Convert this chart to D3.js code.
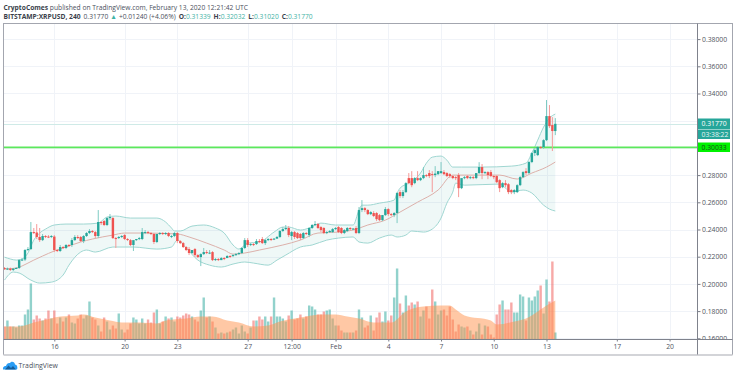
<!DOCTYPE html>
<html>
<head>
<meta charset="utf-8">
<script src="https://cdn.jsdelivr.net/npm/d3@7"></script>
<style>
  html, body { margin: 0; background: #fff; }
  svg { display: block; font-family: "Open Sans", sans-serif; }
  .tick-label { fill: #50535e; font-size: 6.8px; }
  .header { font-size: 6.7px; fill: #4a4f5c; }
  .header .strong { font-weight: 700; fill: #3a3f4b; }
  .header .val { fill: #3fb3a6; }
</style>
</head>
<body>
<svg id="chart" width="736" height="375"></svg>
<script>
const opens = [
  .2117,.2109,.2113,.2102,.2113,.2117,.2175,.2179,.2249,.2256,
  .2381,.2378,.2345,.2322,.2352,.2348,.2345,.2348,.2249,.2242,
  .2271,.2264,.2286,.2286,.2322,.2345,.2345,.2315,.2352,.2374,
  .2389,.2381,.2352,.2455,.2462,.2433,.2484,.2484,.2337,.2337,
  .2345,.2359,.2330,.2322,.2286,.2322,.2330,.2330,.2381,.2381,
  .2374,.2367,.2308,.2367,.2374,.2367,.2374,.2352,.2352,.2374,
  .2315,.2300,.2271,.2256,.2227,.2256,.2212,.2197,.2219,.2234,
  .2227,.2234,.2175,.2183,.2175,.2190,.2190,.2205,.2205,.2212,
  .2219,.2227,.2264,.2322,.2286,.2293,.2293,.2315,.2330,.2300,
  .2322,.2330,.2330,.2333,.2345,.2389,.2403,.2411,.2352,.2381,
  .2374,.2367,.2337,.2374,.2359,.2411,.2433,.2440,.2418,.2411,
  .2374,.2381,.2381,.2403,.2418,.2411,.2374,.2389,.2411,.2403,
  .2411,.2374,.2543,.2557,.2543,.2513,.2521,.2521,.2506,.2469,
  .2506,.2550,.2513,.2506,.2521,.2675,.2646,.2675,.2778,.2778,
  .2741,.2778,.2763,.2778,.2800,.2815,.2807,.2800,.2807,.2815,
  .2822,.2815,.2807,.2793,.2785,.2800,.2704,.2778,.2793,.2778,
  .2785,.2778,.2815,.2859,.2815,.2822,.2822,.2793,.2793,.2763,
  .2711,.2741,.2733,.2690,.2675,.2675,.2726,.2785,.2829,.2815,
  .2896,.2962,.2947,.3006,.3006,.3057,.3234,.3168,.3124
];
const highs = [
  .2124,.2120,.2120,.2113,.2124,.2183,.2190,.2256,.2271,.2455,
  .2411,.2440,.2411,.2367,.2359,.2359,.2359,.2359,.2256,.2286,
  .2278,.2293,.2293,.2337,.2359,.2359,.2352,.2359,.2381,.2403,
  .2396,.2389,.2543,.2462,.2470,.2492,.2514,.2492,.2345,.2352,
  .2359,.2366,.2337,.2330,.2300,.2330,.2345,.2411,.2396,.2389,
  .2381,.2374,.2337,.2381,.2381,.2381,.2381,.2359,.2381,.2381,
  .2322,.2308,.2278,.2271,.2249,.2264,.2219,.2225,.2264,.2249,
  .2249,.2241,.2190,.2190,.2197,.2197,.2212,.2212,.2219,.2227,
  .2234,.2271,.2337,.2337,.2300,.2300,.2330,.2330,.2345,.2330,
  .2337,.2337,.2337,.2352,.2396,.2418,.2433,.2425,.2389,.2389,
  .2381,.2374,.2381,.2381,.2418,.2440,.2462,.2448,.2425,.2418,
  .2389,.2396,.2411,.2418,.2425,.2418,.2403,.2418,.2418,.2411,
  .2425,.2565,.2616,.2565,.2550,.2535,.2535,.2528,.2514,.2506,
  .2565,.2557,.2521,.2528,.2675,.2690,.2690,.2748,.2815,.2829,
  .2785,.2829,.2785,.2859,.2807,.2837,.2829,.2866,.2829,.2896,
  .2837,.2822,.2815,.2800,.2793,.2815,.2733,.2793,.2800,.2793,
  .2793,.2793,.2895,.2881,.2829,.2829,.2837,.2800,.2800,.2770,
  .2748,.2763,.2741,.2697,.2697,.2733,.2793,.2829,.2851,.2903,
  .2969,.2998,.3013,.3013,.3064,.3352,.3315,.3226,.3219
];
const lows = [
  .2102,.2102,.2095,.2095,.2109,.2109,.2168,.2168,.2241,.2249,
  .2366,.2330,.2308,.2315,.2337,.2337,.2337,.2234,.2234,.2234,
  .2256,.2256,.2271,.2271,.2315,.2330,.2308,.2300,.2345,.2366,
  .2374,.2337,.2337,.2433,.2425,.2425,.2470,.2330,.2264,.2330,
  .2337,.2322,.2315,.2278,.2242,.2315,.2322,.2322,.2366,.2366,
  .2359,.2293,.2300,.2359,.2359,.2359,.2344,.2337,.2344,.2300,
  .2293,.2264,.2241,.2212,.2219,.2197,.2190,.2131,.2212,.2219,
  .2219,.2168,.2168,.2168,.2175,.2175,.2190,.2190,.2197,.2205,
  .2212,.2219,.2256,.2271,.2278,.2278,.2286,.2300,.2293,.2286,
  .2315,.2315,.2322,.2330,.2337,.2381,.2396,.2344,.2322,.2330,
  .2330,.2322,.2330,.2359,.2344,.2403,.2425,.2403,.2381,.2366,
  .2366,.2374,.2374,.2396,.2374,.2366,.2366,.2381,.2396,.2396,
  .2366,.2366,.2528,.2528,.2506,.2506,.2491,.2462,.2462,.2462,
  .2499,.2499,.2499,.2491,.2447,.2631,.2631,.2668,.2733,.2711,
  .2733,.2756,.2756,.2770,.2785,.2778,.2675,.2785,.2800,.2807,
  .2800,.2785,.2778,.2770,.2763,.2638,.2697,.2770,.2770,.2770,
  .2770,.2770,.2807,.2770,.2807,.2770,.2785,.2770,.2741,.2675,
  .2704,.2711,.2660,.2660,.2660,.2668,.2719,.2778,.2800,.2807,
  .2888,.2940,.2940,.2994,.2994,.3050,.3146,.2977,.3094
];
const closes = [
  .2109,.2113,.2102,.2113,.2117,.2175,.2179,.2249,.2256,.2381,
  .2378,.2345,.2322,.2352,.2348,.2345,.2352,.2249,.2242,.2271,
  .2264,.2286,.2282,.2322,.2345,.2337,.2315,.2352,.2374,.2389,
  .2381,.2352,.2455,.2447,.2433,.2484,.2492,.2337,.2333,.2345,
  .2352,.2330,.2326,.2286,.2322,.2330,.2337,.2381,.2381,.2374,
  .2367,.2308,.2367,.2374,.2367,.2374,.2352,.2352,.2374,.2315,
  .2300,.2271,.2249,.2227,.2249,.2212,.2197,.2219,.2234,.2227,
  .2230,.2175,.2183,.2175,.2190,.2186,.2205,.2201,.2212,.2219,
  .2227,.2264,.2322,.2286,.2293,.2289,.2315,.2311,.2300,.2322,
  .2330,.2326,.2333,.2345,.2389,.2403,.2411,.2359,.2381,.2345,
  .2337,.2337,.2374,.2367,.2411,.2433,.2440,.2411,.2396,.2374,
  .2381,.2389,.2403,.2411,.2381,.2374,.2396,.2411,.2403,.2407,
  .2374,.2543,.2557,.2543,.2513,.2528,.2499,.2476,.2469,.2506,
  .2550,.2513,.2506,.2521,.2668,.2646,.2675,.2741,.2741,.2726,
  .2778,.2763,.2778,.2800,.2793,.2793,.2800,.2811,.2829,.2829,
  .2807,.2793,.2793,.2778,.2778,.2704,.2778,.2785,.2778,.2785,
  .2778,.2815,.2859,.2815,.2822,.2800,.2793,.2785,.2748,.2704,
  .2741,.2726,.2675,.2675,.2690,.2726,.2785,.2822,.2815,.2896,
  .2962,.2984,.3006,.3002,.3057,.3234,.3160,.3124,.3177
];
const volumes = [
  13,19,13,13,12,14,14,25,30,56,
  20,24,21,19,21,29,21,29,16,22,
  18,22,25,17,16,21,25,21,24,38,
  22,20,14,8,22,18,10,14,11,26,
  10,7,10,16,22,20,16,21,16,20,
  17,27,30,16,18,23,21,22,18,23,
  22,24,26,25,23,20,18,29,42,22,
  23,18,12,6,7,6,7,8,10,12,
  6,14,8,6,12,19,19,23,20,23,
  18,23,42,23,23,21,18,24,29,20,
  21,25,21,23,34,33,30,25,25,28,
  29,30,21,14,14,9,7,7,7,7,
  9,30,22,12,14,24,9,22,27,18,
  28,19,24,42,71,36,27,44,34,37,
  35,38,23,29,33,21,50,38,25,29,
  30,24,33,20,8,15,13,12,13,9,
  5,8,16,5,14,13,5,2,25,35,
  39,30,30,37,27,27,45,43,19,42,
  39,43,49,54,26,60,38,78,7
];

// bandas y media de volumen: leidas a saltos, no vela a vela
const upperAt = [0,2,4,6,8,10,12,14,17,21,27,32,35,38,43,52,55,57,58,60,64,68,72,75,78,80,83,87,92,95,97,101,104,108,113,119,121,122,124,128,133,134,135,138,142,144,146,149,151,153,156,163,173,178,180,182,184,186,188];
const upperBand = [.2197,.2183,.2175,.2183,.2227,.2322,.2374,.2403,.2433,.2440,.2440,.2447,.2492,.2499,.2484,.2484,.2455,.2411,.2389,.2389,.2425,.2433,.2411,.2374,.2286,.2256,.2300,.2308,.2381,.2418,.2418,.2396,.2411,.2447,.2433,.2433,.2543,.2579,.2579,.2594,.2616,.2668,.2704,.2741,.2815,.2888,.2932,.2940,.2910,.2859,.2859,.2859,.2866,.2888,.2962,.3057,.3153,.3219,.3249];
const lowerAt = [0,3,5,9,12,16,20,22,26,28,31,37,44,52,57,59,62,66,70,74,78,82,85,90,93,96,101,105,110,114,119,121,124,128,132,134,137,139,143,146,149,151,153,154,157,169,173,177,180,184,186,188];
const lowerBand = [.2028,.2087,.2080,.2028,.2006,.2013,.2065,.2138,.2234,.2249,.2234,.2271,.2271,.2256,.2271,.2322,.2264,.2175,.2138,.2124,.2146,.2161,.2153,.2138,.2175,.2212,.2271,.2286,.2322,.2337,.2345,.2308,.2300,.2337,.2359,.2345,.2359,.2389,.2381,.2403,.2484,.2594,.2675,.2741,.2726,.2734,.2675,.2690,.2668,.2579,.2550,.2536];
const basisAt = [0,4,8,10,13,17,21,26,30,37,41,47,59,63,69,75,78,82,87,95,101,107,114,119,124,130,135,141,148,153,169,175,180,185,188];
const basisBand = [.2109,.2117,.2153,.2175,.2205,.2242,.2271,.2308,.2330,.2359,.2374,.2374,.2367,.2345,.2300,.2249,.2219,.2227,.2249,.2286,.2322,.2374,.2381,.2396,.2433,.2469,.2528,.2601,.2690,.2800,.2800,.2771,.2815,.2859,.2896];
const volMaAt = [0,5,10,13,19,25,27,31,36,40,46,52,55,62,67,71,76,80,85,90,94,99,103,108,113,117,121,126,132,137,143,149,152,154,157,166,168,174,178,183,185,188];
const volMa = [13,13,17,19,23,24,25,22,19,17,17,16,19,21,23,23,19,17,13,14,18,21,23,25,25,23,21,17,17,28,33,34,34,30,24,19,15,18,21,30,34,39];

const priceGrid = [0.38,0.36,0.34,0.32,0.30,0.28,0.26,0.24,0.22,0.20,0.18,0.16];
// 0.32 y 0.30 quedan tapados por las etiquetas de precio
const priceTicks = [0.38,0.36,0.34,0.28,0.26,0.24,0.22,0.20,0.18,0.16];
const timeTicks = [17,41,59,83,98,113,131,149,167,185,209,227];
const timeLabels = ['16','20','23','27','12:00','Feb','4','7','10','13','17','20'];
const lastPrice = 0.3177;
const alertPrice = 0.30033;

const UP = '#26a69a';
const DOWN = '#ef5350';
const LEFT = 3.5, TOP = 23.5, RIGHT = 732.5, BOTTOM = 354.5, AXIS_X = 697.5, AXIS_Y = 339.5;

const svg = d3.select('#chart');
const x = d3.scaleLinear().domain([0, 188]).range([4.5, 555.3]);
const y = d3.scaleLinear().domain([0.16, 0.38]).range([338.3, 39.1]);
const yVol = d3.scaleLinear().domain([0, 80]).range([AXIS_Y, AXIS_Y - 80]);

const defs = svg.append('defs');
defs.append('clipPath').attr('id', 'pane')
  .append('rect').attr('x', LEFT).attr('y', TOP).attr('width', AXIS_X - LEFT).attr('height', AXIS_Y - TOP);
defs.append('clipPath').attr('id', 'priceClip')
  .append('rect').attr('x', 0).attr('y', 0).attr('width', 40).attr('height', AXIS_Y);

// cabecera
const head1 = svg.append('text').attr('class', 'header').attr('x', 3.5).attr('y', 9.5);
head1.append('tspan').attr('class', 'strong').text('CryptoComes');
head1.append('tspan').text(' published on TradingView.com, February 13, 2020 12:21:42 UTC');
const head2 = svg.append('text').attr('class', 'header').attr('x', 3.5).attr('y', 18.7);
head2.append('tspan').attr('class', 'strong').text('BITSTAMP:XRPUSD, 240');
head2.append('tspan').attr('dx', 3).text('0.31770');
head2.append('tspan').attr('dx', 2).attr('class', 'val').text('▲');
head2.append('tspan').attr('dx', 2).text('+0.01240 (+4.06%)');
[['O:', '0.31339'], ['H:', '0.32032'], ['L:', '0.31020'], ['C:', '0.31770']].forEach(([k, v]) => {
  head2.append('tspan').attr('dx', 3).attr('class', 'strong').text(k);
  head2.append('tspan').attr('class', 'val').text(v);
});

// rejilla
const pane = svg.append('g').attr('clip-path', 'url(#pane)');
pane.selectAll('line.grid-h').data(priceGrid).join('line')
  .attr('class', 'grid-h')
  .attr('x1', LEFT).attr('x2', AXIS_X)
  .attr('y1', (d) => Math.round(y(d)) + 0.5).attr('y2', (d) => Math.round(y(d)) + 0.5)
  .attr('stroke', '#f0f3f8');
pane.selectAll('line.grid-v').data(timeTicks).join('line')
  .attr('class', 'grid-v')
  .attr('x1', (d) => Math.round(x(d)) + 0.5).attr('x2', (d) => Math.round(x(d)) + 0.5)
  .attr('y1', TOP).attr('y2', AXIS_Y)
  .attr('stroke', '#f0f3f8');

// bandas de Bollinger
const bandLine = d3.line().x((d) => x(d[0])).y((d) => y(d[1])).curve(d3.curveMonotoneX);
const upperPts = upperAt.map((at, i) => [at, upperBand[i]]);
const lowerPts = lowerAt.map((at, i) => [at, lowerBand[i]]);
const basisPts = basisAt.map((at, i) => [at, basisBand[i]]);
const fillPath = bandLine(upperPts) + 'L' + bandLine([...lowerPts].reverse()).slice(1) + 'Z';
pane.append('path').attr('d', fillPath).attr('fill', 'rgba(38, 166, 154, 0.075)');
pane.append('path').attr('d', bandLine(upperPts)).attr('fill', 'none').attr('stroke', '#9fd6d1').attr('stroke-width', 1);
pane.append('path').attr('d', bandLine(lowerPts)).attr('fill', 'none').attr('stroke', '#9fd6d1').attr('stroke-width', 1);
pane.append('path').attr('d', bandLine(basisPts)).attr('fill', 'none').attr('stroke', '#dcb0aa').attr('stroke-width', 1);

// volumen
const index = d3.range(closes.length);
const isUp = (i) => closes[i] >= opens[i];
pane.selectAll('rect.vol').data(index).join('rect')
  .attr('class', 'vol')
  .attr('x', (i) => x(i) - 1.2)
  .attr('width', 2.4)
  .attr('y', (i) => yVol(volumes[i]))
  .attr('height', (i) => AXIS_Y - yVol(volumes[i]))
  .attr('fill', (i) => (isUp(i) ? UP : DOWN))
  .attr('opacity', 0.5);
pane.append('path')
  .attr('d', d3.area().x((d, i) => x(volMaAt[i])).y0(AXIS_Y).y1((d) => yVol(d)).curve(d3.curveMonotoneX)(volMa))
  .attr('fill', 'rgba(255, 145, 75, 0.5)');

// lineas de precio
pane.append('line').attr('x1', LEFT).attr('x2', AXIS_X).attr('y1', Math.round(y(lastPrice)) + 0.5).attr('y2', Math.round(y(lastPrice)) + 0.5)
  .attr('stroke', '#cfeae7').attr('stroke-width', 1);
// ancho 2 para que el verde no se apague en la captura
pane.append('line').attr('x1', LEFT).attr('x2', AXIS_X).attr('y1', y(alertPrice)).attr('y2', y(alertPrice))
  .attr('stroke', '#5ce85c').attr('stroke-width', 1.8);

// velas
const candles = pane.selectAll('g.candle').data(index).join('g').attr('class', 'candle');
candles.append('line')
  .attr('x1', (i) => x(i)).attr('x2', (i) => x(i))
  .attr('y1', (i) => y(highs[i])).attr('y2', (i) => y(lows[i]))
  .attr('stroke', (i) => (isUp(i) ? '#7fcbc3' : '#f59a98'))
  .attr('stroke-width', 1);
candles.append('rect')
  .attr('x', (i) => x(i) - 1.2)
  .attr('width', 2.4)
  .attr('y', (i) => y(Math.max(opens[i], closes[i])))
  .attr('height', (i) => Math.max(1, Math.abs(y(opens[i]) - y(closes[i]))))
  .attr('fill', (i) => (isUp(i) ? UP : DOWN));

// ejes
const priceAxis = svg.append('g')
  .attr('transform', `translate(${AXIS_X},0)`)
  .attr('clip-path', 'url(#priceClip)')
  .call(d3.axisRight(y).tickValues(priceTicks).tickFormat(d3.format('.5f')).tickSize(3).tickPadding(1.5));
const timeAxis = svg.append('g')
  .attr('transform', `translate(0,${AXIS_Y})`)
  .call(d3.axisBottom(x).tickValues(timeTicks).tickFormat((d, i) => timeLabels[i]).tickSize(2).tickPadding(3));
[priceAxis, timeAxis].forEach((axis) => {
  axis.select('.domain').remove();
  axis.selectAll('.tick line').attr('stroke', '#787b86');
  axis.selectAll('.tick text').attr('class', 'tick-label');
  axis.attr('font-family', null).attr('font-size', null);
});

// etiquetas sobre el eje de precios
const tags = [
  { top: 118.5, h: 10.5, fill: '#26a69a', text: '0.31770', color: '#fff' },
  { top: 129.5, h: 9.5, fill: '#26a69a', text: '03:38:22', color: '#e8f6f5' },
  { top: 142.5, h: 9.5, fill: '#00f200', text: '0.30033', color: '#1c4a1c' }
];
tags.forEach((t) => {
  svg.append('rect').attr('x', AXIS_X + 0.5).attr('y', t.top).attr('width', 32).attr('height', t.h).attr('fill', t.fill);
  svg.append('text').attr('class', 'tick-label').attr('x', AXIS_X + 4).attr('y', t.top + t.h / 2)
    .attr('dy', '0.34em').style('fill', t.color).text(t.text);
});

// marco
svg.append('rect').attr('x', LEFT).attr('y', TOP).attr('width', RIGHT - LEFT).attr('height', BOTTOM - TOP)
  .attr('fill', 'none').attr('stroke', '#a3a6af');
svg.append('line').attr('x1', LEFT).attr('x2', RIGHT).attr('y1', BOTTOM + 0.5).attr('y2', BOTTOM + 0.5)
  .attr('stroke', '#d3d4d8').attr('stroke-width', 2);
svg.append('line').attr('x1', AXIS_X).attr('x2', AXIS_X).attr('y1', TOP).attr('y2', BOTTOM).attr('stroke', '#7f828c');
svg.append('line').attr('x1', LEFT).attr('x2', RIGHT).attr('y1', AXIS_Y).attr('y2', AXIS_Y).attr('stroke', '#7f828c');

// logo
const logo = svg.append('g').attr('transform', 'translate(3,360)');
logo.append('path')
  .attr('d', 'M0 9.5 C-0.5 7 1.5 5.5 3 6 C3.5 3.5 5.5 2.5 7 3 C8.5 0.5 12 2 12 4.5 C14 4.5 15 7.5 14 9.5 Z')
  .attr('fill', '#2a9df4');
logo.append('path').attr('d', 'M2 9.5 L5.5 5.5 L8 8 L10 6 L13 9.5 Z').attr('fill', '#155e9c');
svg.append('text').attr('x', 18.5).attr('y', 368).attr('font-size', 6.9).attr('fill', '#4a4f5c').text('TradingView');
</script>
</body>
</html>
